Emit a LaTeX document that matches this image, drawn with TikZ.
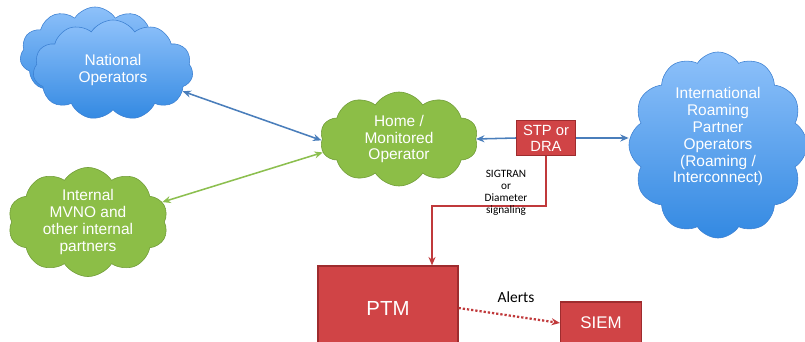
\documentclass[tikz,border=0pt]{standalone}
\usepackage{fontspec}
\setmainfont{Liberation Sans}
\newfontfamily\notefont{Carlito}
\usetikzlibrary{shapes.symbols,arrows.meta}

\definecolor{cloudtop}{HTML}{8EC1FA}
\definecolor{cloudbot}{HTML}{3389E2}
\definecolor{cloudline}{HTML}{3C80D2}
\definecolor{grn}{HTML}{8CBE47}
\definecolor{grnline}{HTML}{6F9B36}
\definecolor{redfill}{HTML}{D04446}
\definecolor{redline}{HTML}{9E2C2E}
\definecolor{bluearrow}{HTML}{4A7EBB}
\definecolor{greenarrow}{HTML}{8CBF4F}
\definecolor{redarrow}{HTML}{C0393B}

\tikzset{
  bluecloud/.style={cloud,cloud puffs=11,cloud puff arc=115,cloud ignores aspect,draw=cloudline,
    top color=cloudtop,bottom color=cloudbot,text=white,align=center,inner sep=0pt,
    font=\fontsize{11}{12}\selectfont},
  greencloud/.style={cloud,cloud puffs=10,cloud puff arc=115,cloud ignores aspect,draw=grnline,
    fill=grn,text=white,align=center,inner sep=0pt,font=\fontsize{11}{12}\selectfont},
  redbox/.style={rectangle,draw=redline,fill=redfill,text=white,align=center,
    inner sep=0pt,thick},
  link/.style={line width=1.1pt}
}

\begin{document}
\begin{tikzpicture}[x=0.025cm,y=-0.025cm,>={Stealth[length=6pt,width=5pt]}]
        \clip (0,0) rectangle (805,342);

        \node[bluecloud,minimum width=3.75cm,minimum height=2.4cm](natback)at(95,55){};
        \node[bluecloud,minimum width=4cm,minimum height=2.5cm](nat)at(113,70){National\\Operators};
        \node[greencloud,minimum width=3.95cm,minimum height=2.35cm](home)at(399,139){Home /\\Monitored\\Operator};
        \node[greencloud,minimum width=4cm,minimum height=2.4cm](mvno)at(88,222){Internal\\MVNO and\\other internal\\partners};
        \node[bluecloud,cloud puffs=12,minimum width=4.45cm,minimum height=4.65cm](intl)at(718,145){International\\Roaming\\Partner\\Operators\\(Roaming /\\Interconnect)\\[2pt]\mbox{}};

        \node[redbox,minimum width=1.475cm,minimum height=0.875cm,font=\fontsize{10.5}{11.5}\selectfont](stp)at(546,138){STP or\\DRA};
        \node[redbox,minimum width=3.5cm,minimum height=2.1cm,font=\fontsize{14.5}{16}\selectfont](ptm)at(388,308){PTM};
        \node[redbox,minimum width=2.025cm,minimum height=1.05cm,font=\fontsize{12}{13}\selectfont](siem)at(601,323){SIEM};

        \draw[<->,link,bluearrow](nat.-17)--(home.181);
        \draw[<->,link,greenarrow](mvno.15)--(home.190);
        \draw[->,link,bluearrow](stp.west)--(home.east);
        \draw[->,link,bluearrow](stp.east)--(intl.west |- stp.east);

        \draw[->,link,redarrow](stp.south)--++(0,50)-|([xshift=1.1cm]ptm.north);
        \node[align=center,font=\notefont\fontsize{8}{8.6}\selectfont](sig)at(506,193){SIGTRAN\\or\\Diameter\\signaling};

        \draw[->,line width=1.6pt,dash pattern=on 1.6pt off 1.4pt,redarrow](ptm.east)--(siem.west);
        \node[font=\notefont\fontsize{11}{12}\selectfont](alerts)at(516,297){Alerts};
    \end{tikzpicture}
\end{document}
